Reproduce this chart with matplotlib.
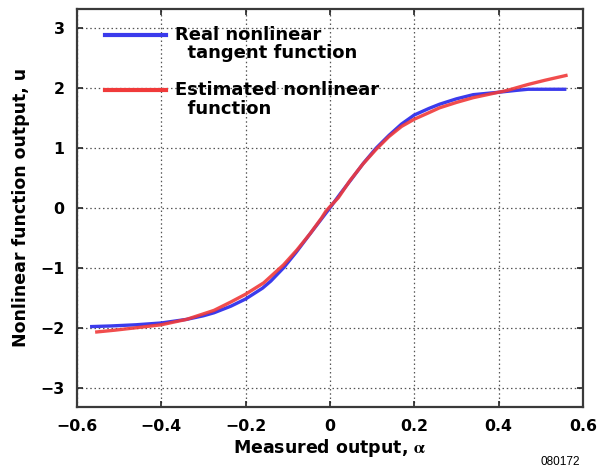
import numpy as np
import matplotlib
matplotlib.use("Agg")
import matplotlib.pyplot as plt
from matplotlib.legend_handler import HandlerLine2D

# values
real_alpha = [-0.565, -0.52, -0.46, -0.40, -0.34, -0.30, -0.275, -0.235, -0.20, -0.16,
              -0.14, -0.11, -0.08, -0.05, -0.025, 0.0, 0.025, 0.05, 0.08, 0.11,
              0.14, 0.17, 0.20, 0.235, 0.26, 0.30, 0.34, 0.40, 0.44, 0.47, 0.557]
real_u = [-1.98, -1.97, -1.95, -1.92, -1.86, -1.80, -1.75, -1.64, -1.52, -1.34,
          -1.22, -1.00, -0.74, -0.46, -0.23, 0.0, 0.24, 0.47, 0.75, 1.00,
          1.21, 1.40, 1.55, 1.66, 1.73, 1.82, 1.89, 1.93, 1.96, 1.98, 1.98]

est_alpha = [-0.553, -0.51, -0.46, -0.40, -0.34, -0.275, -0.235, -0.20, -0.157, -0.11,
             -0.078, -0.047, -0.02, -0.01, 0.0, 0.02, 0.047, 0.078, 0.11, 0.14,
             0.17, 0.20, 0.235, 0.26, 0.30, 0.34, 0.38, 0.42, 0.47, 0.51, 0.56]
est_u = [-2.07, -2.04, -2.00, -1.95, -1.86, -1.71, -1.57, -1.44, -1.25, -0.95,
         -0.70, -0.43, -0.17, -0.06, 0.02, 0.17, 0.45, 0.73, 0.98, 1.19,
         1.36, 1.48, 1.59, 1.67, 1.76, 1.84, 1.90, 1.96, 2.06, 2.13, 2.21]

xticks = [-0.6, -0.4, -0.2, 0, 0.2, 0.4, 0.6]
xticklabels = ["\u22120.6", "\u22120.4", "\u22120.2", "0", "0.2", "0.4", "0.6"]
yticks = [-3, -2, -1, 0, 1, 2, 3]
yticklabels = ["\u22123", "\u22122", "\u22121", "0", "1", "2", "3"]

plt.rcParams['font.family'] = ['DejaVu Sans']
plt.rcParams['font.weight'] = 'bold'
plt.rcParams['mathtext.fontset'] = 'stix'


class TopLineHandler(HandlerLine2D):
    # put the legend line next to the first line of a two-line label
    def create_artists(self, legend, orig_handle, xdescent, ydescent,
                       width, height, fontsize, trans):
        arts = super().create_artists(legend, orig_handle, xdescent, ydescent,
                                      width, height, fontsize, trans)
        for a in arts:
            a.set_ydata(np.asarray(a.get_ydata()) + 0.55 * fontsize)
        return arts


fig = plt.figure(figsize=(5.99, 4.72), dpi=100)
ax = fig.add_axes([0.1285, 0.138, 0.8445, 0.843])

l1, = ax.plot(real_alpha, real_u, color='#3b3bec', lw=2.4,
              label="Real nonlinear\n  tangent function")
l2, = ax.plot(est_alpha, est_u, color='#f03a3a', lw=2.4, alpha=0.9,
              label="Estimated nonlinear\n  function")

ax.set_xlim(-0.6, 0.6)
ax.set_ylim(-3.32, 3.32)
ax.set_xticks(xticks)
ax.set_xticklabels(xticklabels)
ax.set_yticks(yticks)
ax.set_yticklabels(yticklabels)
ax.tick_params(direction='in', length=4, width=1.2, top=True, right=True,
               labelsize=11.3, colors='#222222', labelcolor='black')
ax.tick_params(axis='y', pad=9)
ax.tick_params(axis='x', pad=9)
ax.grid(True, color='#555555', lw=0.9, linestyle=(0, (1.2, 2.2)))
for s in ax.spines.values():
    s.set_color('#3a3a3a')
    s.set_linewidth(1.6)

ax.set_xlabel("Measured output, $\\mathrm{\\alpha}$", fontsize=12.5,
              fontweight='bold', labelpad=2)
ax.set_ylabel("Nonlinear function output, u", fontsize=12.5,
              fontweight='bold', labelpad=7)

leg = ax.legend(handles=[l1, l2], loc='upper left',
                bbox_to_anchor=(0.055, 0.958), borderaxespad=0, borderpad=0,
                frameon=False, prop={'size': 13, 'weight': 'bold'},
                handlelength=3.4, handletextpad=0.5, labelspacing=1.05,
                handler_map={l1: TopLineHandler(), l2: TopLineHandler()})
for t in leg.get_texts():
    t.set_linespacing(1.05)
for h in leg.legend_handles:
    h.set_linewidth(3)
    h.set_alpha(1)

fig.text(0.935, 0.008, "080172", fontsize=8.5, fontweight='normal',
         family=['Liberation Sans', 'DejaVu Sans'], ha='center', va='bottom')

fig.savefig("out.png", dpi=100)
